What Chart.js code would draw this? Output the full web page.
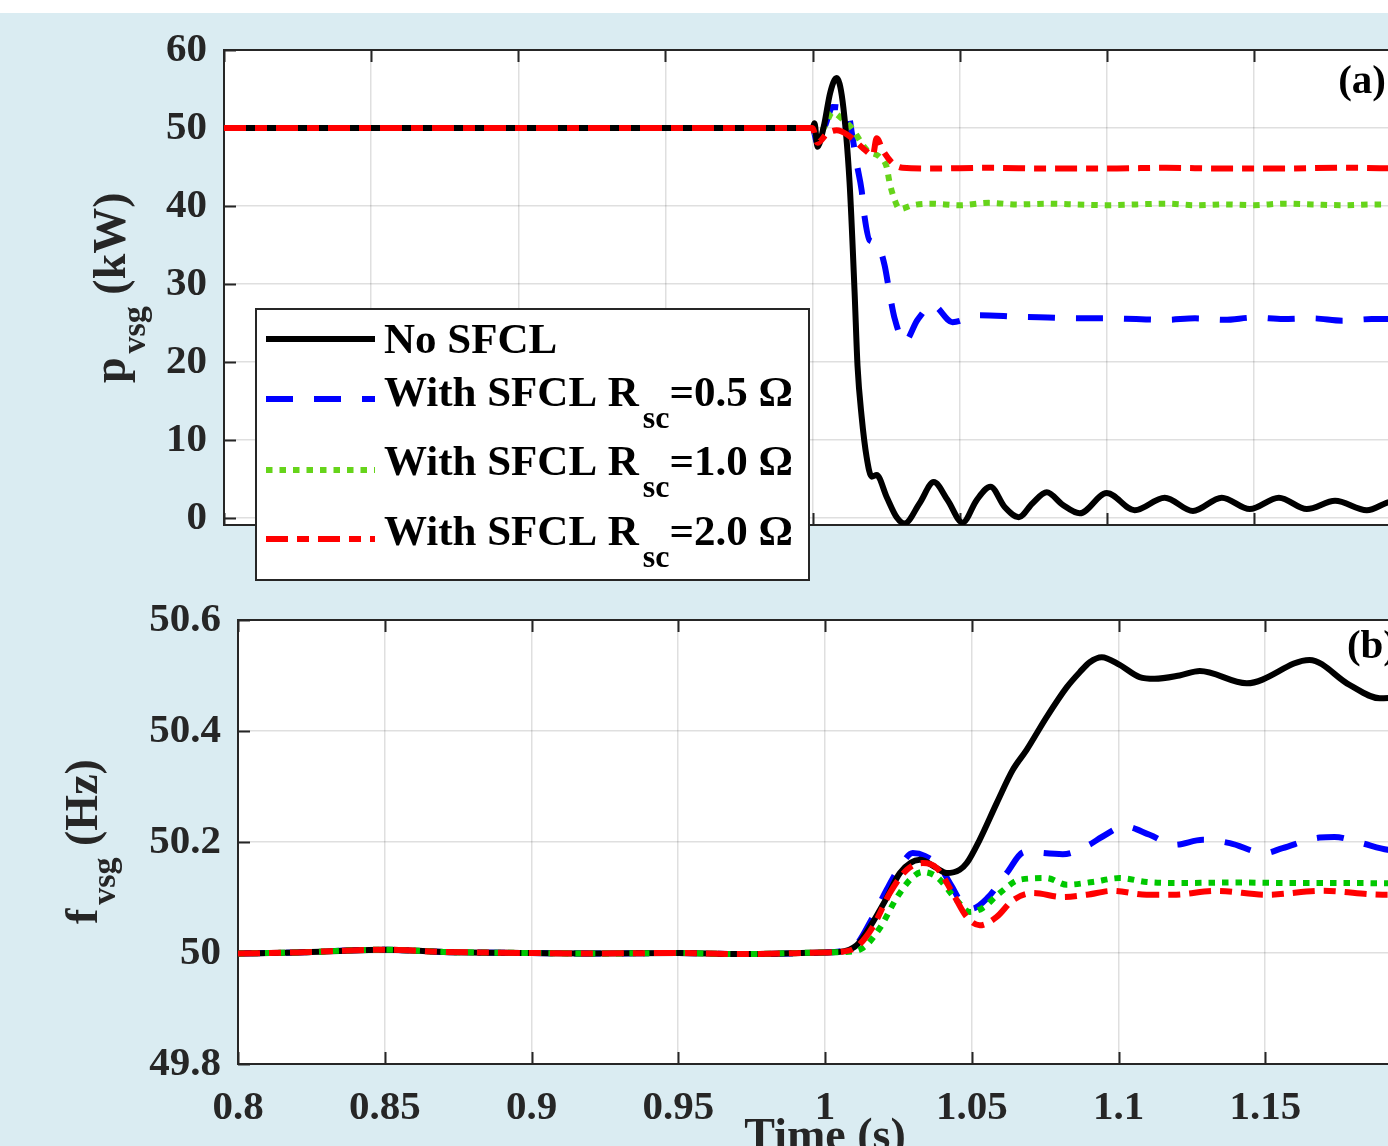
<!DOCTYPE html>
<html>
<head>
<meta charset="utf-8">
<script src="https://cdn.jsdelivr.net/npm/chart.js@4.4.0/dist/chart.umd.min.js"></script>
<style>
  html, body { margin: 0; padding: 0; width: 1388px; height: 1146px; overflow: hidden; background: #fff; }
  #bg { position: absolute; left: 0; top: 13px; width: 1388px; height: 1133px; background: #daecf2; }
  canvas { position: absolute; left: 0; }
  #chart-p { top: 0; }
  #chart-f { top: 570px; }
</style>
</head>
<body>
<div id="bg"></div>
<canvas id="chart-p" width="1440" height="590"></canvas>
<canvas id="chart-f" width="1460" height="576"></canvas>
<script>
// ---- shared axis ticks ----
const timeTicks = [0.8, 0.85, 0.9, 0.95, 1, 1.05, 1.1, 1.15, 1.2];
const timeTickLabels = ['0.8', '0.85', '0.9', '0.95', '1', '1.05', '1.1', '1.15', '1.2'];
const pTicks = [0, 10, 20, 30, 40, 50, 60];
const pTickLabels = ['0', '10', '20', '30', '40', '50', '60'];
const fTicks = [49.8, 50, 50.2, 50.4, 50.6];
const fTickLabels = ['49.8', '50', '50.2', '50.4', '50.6'];

const seriesNames = ['No SFCL', 'With SFCL', 'With SFCL', 'With SFCL'];
const rscValues = [null, '0.5', '1.0', '2.0'];

// ---- (a) active power p_vsg, kW ----
const tP_none = [0.8, 0.9, 1.0, 1.0007, 1.0017, 1.0040, 1.0060, 1.0082, 1.0102, 1.0126, 1.0143, 1.0153, 1.0167, 1.0184, 1.0201, 1.0218, 1.0252, 1.0286, 1.0313, 1.0364, 1.0412, 1.0459, 1.0510, 1.0558, 1.0605, 1.0653, 1.0701, 1.0748, 1.0796, 1.0850, 1.0908, 1.1000, 1.1095, 1.1197, 1.1293, 1.1391, 1.1486, 1.1585, 1.1680, 1.1776, 1.1884, 1.1956, 1.2];
const p_none = [50, 50, 50, 50.6, 47.6, 50.5, 54.5, 56.4, 53.5, 43, 29, 19.5, 13, 7.8, 5.3, 5.5, 2.7, 0.1, -0.7, 1.9, 4.6, 2.3, -0.6, 2.3, 4.0, 1.4, 0.1, 1.9, 3.3, 1.7, 0.6, 3.2, 1.0, 2.6, 0.9, 2.6, 1.15, 2.6, 1.15, 2.2, 1.0, 2.0, 2.3];

const tP_05 = [0.8, 0.9, 1.0, 1.0017, 1.0045, 1.0068, 1.0100, 1.0119, 1.0136, 1.0150, 1.0167, 1.0177, 1.0194, 1.0218, 1.0245, 1.0262, 1.0279, 1.0313, 1.0357, 1.0408, 1.0476, 1.0568, 1.07, 1.08, 1.09, 1.10, 1.11, 1.12, 1.13, 1.14, 1.15, 1.16, 1.17, 1.18, 1.19, 1.2];
const p_05 = [50, 50, 50, 48, 50.5, 52.7, 52.6, 52.3, 48.8, 45.5, 42, 38.6, 35.6, 35.3, 32.4, 28.8, 25.6, 22.6, 25.4, 27.3, 25.1, 26, 25.8, 25.7, 25.6, 25.6, 25.5, 25.4, 25.6, 25.4, 25.7, 25.5, 25.6, 25.3, 25.5, 25.5];

const tP_10 = [0.8, 0.9, 1.0, 1.0017, 1.0045, 1.0068, 1.0100, 1.0133, 1.0184, 1.0228, 1.0252, 1.0262, 1.0279, 1.0296, 1.0340, 1.04, 1.05, 1.06, 1.07, 1.08, 1.09, 1.10, 1.11, 1.12, 1.13, 1.14, 1.15, 1.16, 1.17, 1.18, 1.19, 1.2];
const p_10 = [50, 50, 50, 48.8, 50.5, 52, 51.2, 50, 47.2, 46.3, 45, 43, 40.8, 39.6, 40.1, 40.3, 40.1, 40.4, 40.2, 40.3, 40.2, 40.1, 40.2, 40.3, 40.1, 40.2, 40.1, 40.3, 40.2, 40.1, 40.2, 40.2];

const tP_20 = [0.8, 0.9, 1.0, 1.0017, 1.0050, 1.0082, 1.0120, 1.0184, 1.0205, 1.0218, 1.0238, 1.0272, 1.0306, 1.04, 1.06, 1.08, 1.10, 1.12, 1.14, 1.16, 1.18, 1.2];
const p_20 = [50, 50, 50, 48.1, 49.3, 49.7, 49.1, 47.0, 46.5, 48.7, 47.2, 45.5, 44.9, 44.8, 44.9, 44.8, 44.8, 44.9, 44.8, 44.8, 44.9, 44.8];

// ---- (b) frequency f_vsg, Hz ----
const tF_none = [0.8, 0.82, 0.85, 0.87, 0.9, 0.92, 0.95, 0.97, 1.0, 1.005, 1.0108, 1.0153, 1.0211, 1.0255, 1.0323, 1.0381, 1.0415, 1.0459, 1.0483, 1.0527, 1.0585, 1.0640, 1.0687, 1.0755, 1.0824, 1.0868, 1.0902, 1.0943, 1.1004, 1.1072, 1.1123, 1.1208, 1.1277, 1.1437, 1.1651, 1.1787, 1.1890, 1.2];
const f_none = [49.999, 50.001, 50.006, 50.002, 50.0, 49.999, 50.0, 49.998, 50.001, 50.002, 50.014, 50.047, 50.10, 50.144, 50.168, 50.153, 50.144, 50.15, 50.162, 50.204, 50.27, 50.33, 50.366, 50.425, 50.479, 50.506, 50.524, 50.533, 50.519, 50.497, 50.494, 50.50, 50.508, 50.486, 50.528, 50.483, 50.459, 50.462];

const tF_05 = [0.8, 0.82, 0.85, 0.87, 0.9, 0.92, 0.95, 0.97, 1.0, 1.005, 1.0108, 1.0153, 1.0211, 1.0255, 1.0299, 1.0340, 1.0391, 1.0432, 1.0466, 1.0500, 1.0555, 1.0619, 1.0680, 1.0810, 1.0900, 1.0943, 1.1021, 1.1106, 1.1191, 1.1287, 1.1379, 1.1498, 1.1559, 1.1685, 1.1736, 1.1828, 1.1917, 1.2];
const f_05 = [49.999, 50.001, 50.006, 50.002, 50.0, 49.999, 50.0, 49.998, 50.001, 50.003, 50.016, 50.055, 50.115, 50.155, 50.18, 50.175, 50.155, 50.12, 50.09, 50.08, 50.10, 50.144, 50.182, 50.178, 50.195, 50.209, 50.228, 50.213, 50.195, 50.204, 50.198, 50.18, 50.189, 50.208, 50.209, 50.198, 50.186, 50.183];

const tF_10 = [0.8, 0.82, 0.85, 0.87, 0.9, 0.92, 0.95, 0.97, 1.0, 1.007, 1.0129, 1.0187, 1.0245, 1.0299, 1.0333, 1.0381, 1.0449, 1.0493, 1.0537, 1.0595, 1.0663, 1.0755, 1.0824, 1.0912, 1.1004, 1.1096, 1.1198, 1.14, 1.16, 1.18, 1.2];
const f_10 = [49.999, 50.001, 50.006, 50.002, 50.0, 49.999, 50.0, 49.998, 50.001, 50.002, 50.009, 50.045, 50.10, 50.137, 50.146, 50.137, 50.095, 50.074, 50.081, 50.108, 50.132, 50.135, 50.123, 50.128, 50.135, 50.128, 50.126, 50.127, 50.126, 50.126, 50.125];

const tF_20 = [0.8, 0.82, 0.85, 0.87, 0.9, 0.92, 0.95, 0.97, 1.0, 1.005, 1.0108, 1.0163, 1.0221, 1.0279, 1.0333, 1.0381, 1.0435, 1.0483, 1.0527, 1.0585, 1.0640, 1.0708, 1.0810, 1.0892, 1.0980, 1.1096, 1.1185, 1.1335, 1.1505, 1.1696, 1.19, 1.2];
const f_20 = [49.999, 50.001, 50.006, 50.002, 50.0, 49.999, 50.0, 49.998, 50.001, 50.002, 50.011, 50.047, 50.108, 50.15, 50.162, 50.153, 50.108, 50.065, 50.05, 50.065, 50.095, 50.108, 50.101, 50.105, 50.112, 50.105, 50.105, 50.112, 50.105, 50.112, 50.105, 50.106];

// ---- styling ----
const FONT = '"Liberation Serif", "Times New Roman", serif';
const INK = '#262626';
const GRID = 'rgba(38,38,38,0.15)';
const BLUE = '#0000ff';
const RED = '#ff0000';
const GREEN_A = '#66d41a';
const GREEN_B = '#00c800';
const DASH = [27, 21];
const DOT = [6.5, 7];
const DASHDOT = [22, 9, 12, 9];
const LINE_W = 6;

function pts(t, v) {
  return t.map((x, i) => ({ x: x, y: v[i] }));
}

// order: higher numbers are drawn first (underneath)
function series(label, t, v, color, dash, order) {
  return {
    label: label,
    data: pts(t, v),
    borderColor: color,
    borderWidth: LINE_W,
    borderDash: dash,
    borderCapStyle: 'butt',
    borderJoinStyle: 'round',
    pointRadius: 0,
    cubicInterpolationMode: 'monotone',
    fill: false,
    order: order
  };
}

// text runs with subscripts, e.g. R_sc
function drawRuns(ctx, runs, x, y, size, subSize, subDrop) {
  let cx = x;
  runs.forEach(r => {
    ctx.font = `bold ${r.sub ? subSize : size}px ${FONT}`;
    if (r.sub) cx += 4;
    ctx.fillText(r.t, cx, r.sub ? y + subDrop : y);
    cx += ctx.measureText(r.t).width;
  });
}

function legendRuns(i) {
  if (!rscValues[i]) return [{ t: seriesNames[i] }];
  return [{ t: seriesNames[i] + ' R' }, { t: 'sc', sub: true }, { t: '=' + rscValues[i] + ' \u03A9' }];
}

// white plot area, box, inward ticks, titles and legend
const frame = {
  id: 'frame',
  beforeDraw(chart) {
    const { ctx, chartArea: a } = chart;
    ctx.save();
    ctx.fillStyle = '#fff';
    ctx.fillRect(a.left, a.top, a.right - a.left, a.bottom - a.top);
    ctx.restore();
  },
  beforeDatasetsDraw(chart) {
    const { ctx, chartArea: a, scales } = chart;
    ctx.save();
    ctx.strokeStyle = INK;
    ctx.lineWidth = 2;
    ctx.beginPath();
    scales.x.ticks.forEach(t => {
      const px = Math.round(scales.x.getPixelForValue(t.value)) + 0.5;
      ctx.moveTo(px, a.bottom); ctx.lineTo(px, a.bottom - 12);
      ctx.moveTo(px, a.top); ctx.lineTo(px, a.top + 12);
    });
    scales.y.ticks.forEach(t => {
      const py = Math.round(scales.y.getPixelForValue(t.value)) + 0.5;
      ctx.moveTo(a.left, py); ctx.lineTo(a.left + 12, py);
      ctx.moveTo(a.right, py); ctx.lineTo(a.right - 12, py);
    });
    ctx.stroke();
    ctx.strokeRect(a.left, a.top, a.right - a.left, a.bottom - a.top);
    ctx.restore();
  },
  afterDraw(chart, args, opts) {
    const { ctx, chartArea: a } = chart;
    ctx.save();
    ctx.fillStyle = INK;
    ctx.textBaseline = 'alphabetic';

    // rotated y-axis title
    ctx.save();
    ctx.translate(opts.yTitle.x, opts.yTitle.y);
    ctx.rotate(-Math.PI / 2);
    ctx.textAlign = 'left';
    drawRuns(ctx, opts.yTitle.runs, 0, 0, 46, 34, opts.yTitle.drop);
    ctx.restore();

    // panel letter
    ctx.font = `bold 41px ${FONT}`;
    ctx.fillStyle = '#000';
    ctx.textAlign = 'right';
    ctx.fillText(opts.letter, a.right - 15, a.top + opts.letterDy);

    if (opts.xTitle) {
      ctx.fillStyle = INK;
      ctx.textAlign = 'center';
      ctx.font = `bold 46px ${FONT}`;
      ctx.fillText(opts.xTitle, (a.left + a.right) / 2, opts.xTitleY);
    }

    if (opts.legend) {
      const L = opts.legend;
      ctx.fillStyle = '#fff';
      ctx.fillRect(L.x0, L.y0, L.x1 - L.x0, L.y1 - L.y0);
      ctx.strokeStyle = INK;
      ctx.lineWidth = 2;
      ctx.strokeRect(L.x0, L.y0, L.x1 - L.x0, L.y1 - L.y0);
      L.rows.forEach((row, i) => {
        const ds = chart.data.datasets[i];
        ctx.save();
        ctx.strokeStyle = ds.borderColor;
        ctx.lineWidth = LINE_W;
        ctx.lineCap = 'butt';
        ctx.setLineDash(ds.borderDash || []);
        ctx.beginPath();
        ctx.moveTo(266, row.lineY);
        ctx.lineTo(375, row.lineY);
        ctx.stroke();
        ctx.restore();
        ctx.fillStyle = '#000';
        ctx.textAlign = 'left';
        drawRuns(ctx, legendRuns(i), 384, row.baseY, 43, 32, 22);
      });
    }
    ctx.restore();
  }
};

function axisFont(size) {
  return { family: FONT, size: size, weight: 'bold' };
}

function makeChart(id, cfg) {
  const ctx = document.getElementById(id).getContext('2d');
  return new Chart(ctx, {
    type: 'line',
    data: { datasets: cfg.datasets },
    options: {
      responsive: false,
      animation: false,
      devicePixelRatio: 1,
      layout: { padding: cfg.padding },
      plugins: { legend: { display: false }, tooltip: { enabled: false }, frame: cfg.frame },
      scales: {
        x: {
          type: 'linear',
          min: 0.8,
          max: 1.2,
          afterBuildTicks: s => { s.ticks = timeTicks.map(v => ({ value: v })); },
          afterFit: s => { s.height = cfg.xHeight; },
          grid: { color: GRID, lineWidth: 1.5, drawTicks: false },
          border: { display: false },
          ticks: {
            display: cfg.showTime,
            autoSkip: false,
            maxRotation: 0,
            padding: 20,
            color: INK,
            font: axisFont(41),
            callback: (v, i) => timeTickLabels[i]
          }
        },
        y: {
          type: 'linear',
          min: cfg.yMin,
          max: cfg.yMax,
          afterBuildTicks: s => { s.ticks = cfg.yTicks.map(v => ({ value: v })); },
          afterFit: s => { s.width = cfg.yWidth; },
          grid: { color: GRID, lineWidth: 1.5, drawTicks: false },
          border: { display: false },
          ticks: {
            padding: 17,
            color: INK,
            font: axisFont(41),
            callback: (v, i) => cfg.yLabels[i]
          }
        }
      }
    },
    plugins: [frame]
  });
}

makeChart('chart-p', {
  datasets: [
    series(seriesNames[0], tP_none, p_none, '#000000', [], 1),
    series(seriesNames[1], tP_05, p_05, BLUE, DASH, 3),
    series(seriesNames[2], tP_10, p_10, GREEN_A, DOT, 2),
    series(seriesNames[3], tP_20, p_20, RED, DASHDOT, 0)
  ],
  padding: { left: 0, top: 50, right: 39, bottom: 0 },
  xHeight: 65,
  yWidth: 224,
  yMin: -0.9,
  yMax: 60,
  yTicks: pTicks,
  yLabels: pTickLabels,
  showTime: false,
  frame: {
    letter: '(a)',
    letterDy: 43,
    yTitle: { x: 125, y: 383, drop: 20, runs: [{ t: 'p' }, { t: 'vsg', sub: true }, { t: ' (kW)' }] },
    legend: {
      x0: 256, y0: 309, x1: 809, y1: 580,
      rows: [
        { lineY: 339, baseY: 353 },
        { lineY: 399, baseY: 406 },
        { lineY: 470, baseY: 475 },
        { lineY: 539, baseY: 545 }
      ]
    }
  }
});

// canvas starts at page y = 570
makeChart('chart-f', {
  datasets: [
    series(seriesNames[0], tF_none, f_none, '#000000', [], 2),
    series(seriesNames[1], tF_05, f_05, BLUE, DASH, 3),
    series(seriesNames[2], tF_10, f_10, GREEN_B, DOT, 1),
    series(seriesNames[3], tF_20, f_20, RED, DASHDOT, 0)
  ],
  padding: { left: 0, top: 50, right: 48, bottom: 0 },
  xHeight: 82,
  yWidth: 238,
  yMin: 49.8,
  yMax: 50.6,
  yTicks: fTicks,
  yLabels: fTickLabels,
  showTime: true,
  frame: {
    letter: '(b)',
    letterDy: 38,
    xTitle: 'Time (s)',
    xTitleY: 580,
    yTitle: { x: 97, y: 354, drop: 18, runs: [{ t: 'f' }, { t: 'vsg', sub: true }, { t: ' (Hz)' }] }
  }
});
</script>
</body>
</html>
